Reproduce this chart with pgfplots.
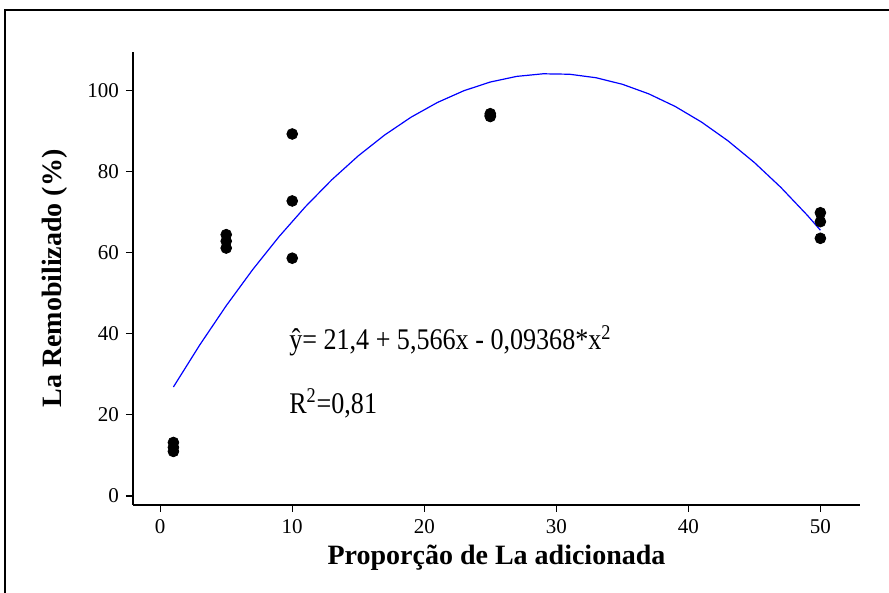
\documentclass[border=0pt]{standalone}
\usepackage{fontspec}
\setmainfont{Liberation Serif}
\usepackage{pgfplots}
\pgfplotsset{compat=1.18}

\begin{document}
\begin{tikzpicture}
\useasboundingbox (-66.5pt,-44pt) rectangle (378pt,252.5pt);
\draw[line width=0.7pt] (-64pt,-48pt) -- (-64pt,247.5pt) -- (380pt,247.5pt);
\begin{axis}[
  at={(0,0)}, anchor=south west,
  scale only axis, width=363.5pt, height=226.5pt,
  xmin=-2.06, xmax=53, ymin=-2.2, ymax=109.4,
  axis lines=left, axis line style={-, line width=0.7pt},
  xtick={0,10,...,50}, ytick={0,20,...,100},
  tick align=outside, major tick length=3.5pt,
  tick style={black, line width=0.6pt},
  every tick label/.append style={font=\fontsize{10.5}{12}\selectfont},
  /pgf/number format/assume math mode=true,
  xlabel={\textbf{Proporção de La adicionada}},
  ylabel={\textbf{La Remobilizado (\%)}},
  label style={font=\fontsize{14}{16}\selectfont},
  xlabel style={yshift=1pt},
  ylabel style={yshift=3pt},
  clip=false,
]
\addplot[only marks, mark=*, mark size=2.7pt, black] coordinates {
  (1,11) (1,12) (1,13.2)
  (5,61.1) (5,62.8) (5,64.4)
  (10,58.6) (10,72.7) (10,89.2)
  (25,93.5) (25,93.8) (25,94.2)
  (50,63.5) (50,67.6) (50,69.8)
};
\addplot[blue, line width=0.6pt] coordinates {
  (1,26.87) (3,37.25) (5,46.89) (7,55.77) (9,63.91) (11,71.29)
  (13,77.93) (15,83.81) (17,88.95) (19,93.34) (21,96.97) (23,99.86)
  (25,102.0) (27,103.39) (29,104.03) (31,103.92) (33,103.06) (35,101.45)
  (37,99.09) (39,95.99) (41,92.13) (43,87.52) (45,82.17) (47,76.06)
  (49,69.21) (50,65.5)
};
\node[anchor=base west, inner sep=0pt, xscale=0.87, font=\fontsize{15}{17}\selectfont]
  at (axis cs:9.75,36) {ŷ= 21,4 + 5,566x - 0,09368*x\textsuperscript{2}};
\node[anchor=base west, inner sep=0pt, xscale=0.87, font=\fontsize{15}{17}\selectfont]
  at (axis cs:9.75,20.4) {R\textsuperscript{2}=0,81};
\end{axis}
\end{tikzpicture}
\end{document}
